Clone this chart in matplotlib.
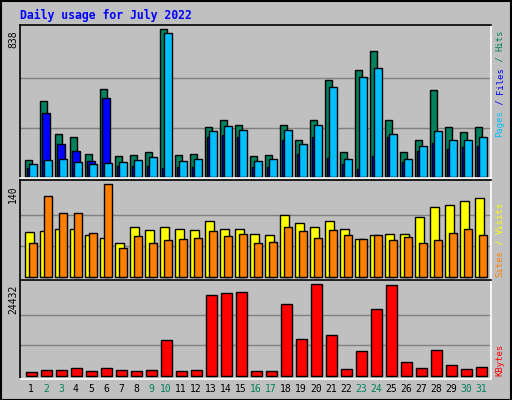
import numpy as np
import matplotlib.pyplot as plt
from matplotlib.patches import Rectangle

days = list(range(1, 32))
hits = [99, 428, 241, 229, 133, 497, 121, 127, 144, 838, 127, 133, 281, 320, 292, 121,
        127, 292, 207, 320, 548, 144, 605, 713, 320, 144, 207, 491, 281, 252, 281]
files = [53, 360, 184, 150, 93, 446, 64, 64, 64, 53, 59, 59, 224, 235, 229, 59,
         59, 207, 133, 224, 110, 76, 47, 121, 229, 87, 150, 190, 161, 167, 173]
pages = [76, 99, 104, 87, 76, 82, 87, 99, 116, 815, 93, 104, 258, 286, 264, 93,
         104, 264, 184, 292, 508, 104, 565, 616, 241, 104, 178, 258, 212, 212, 224]
visits = [67, 69, 73, 73, 63, 58, 51, 76, 70, 76, 72, 70, 84, 72, 73, 64,
          63, 93, 81, 76, 85, 73, 57, 63, 64, 64, 91, 105, 108, 114, 119]
sites = [51, 122, 97, 97, 66, 140, 44, 61, 51, 55, 57, 58, 69, 61, 64, 51,
         52, 75, 69, 58, 70, 63, 57, 63, 55, 60, 51, 55, 66, 72, 63]
kbytes = [892, 1427, 1427, 1962, 1160, 1962, 1427, 1160, 1427, 9455, 1160, 1427, 21497, 22032,
          22300, 1160, 1160, 19089, 9723, 24432, 10793, 1695, 6512, 17751, 24173, 3568, 1962,
          6779, 2765, 1695, 2230]
weekend = [2, 3, 9, 10, 16, 17, 23, 24, 30, 31]

BG = '#C0C0C0'
GREEN = '#00805C'
W, H = 512, 400
mono = 'DejaVu Sans Mono'

fig = plt.figure(figsize=(W / 100, H / 100), dpi=100, facecolor=BG)
fig.patches.append(Rectangle((0.5 / W, 0.5 / H), 1 - 1.5 / W, 1 - 1.5 / H, transform=fig.transFigure,
                             fill=False, ec='black', lw=1.5))

def panel(top, bottom):
    ax = fig.add_axes([20 / W, 1 - bottom / H, 471 / W, (bottom - top) / H])
    ax.set_facecolor(BG)
    ax.set_xlim(0.277, 31.68)
    ax.set_xticks([])
    ax.set_yticks([])
    for s in ax.spines.values():
        s.set_color('black')
        s.set_linewidth(1.2)
    ax.spines['bottom'].set_color('white')
    ax.spines['right'].set_color('white')
    return ax

x = np.array(days)
bk = dict(edgecolor='black', linewidth=1)

# top panel
ax1 = panel(25, 178)
m1 = max(hits)
ax1.set_ylim(-5.7, 860.6)
for g in (m1 / 3, 2 * m1 / 3):
    ax1.axhline(g, color='#808080', lw=1, zorder=0)
ax1.bar(x - 0.147, hits, width=0.487, color=GREEN, **bk)
ax1.bar(x, files, width=0.51, color='#0000FF', **bk)
ax1.bar(x + 0.14, pages, width=0.487, color='#00BFFF', **bk)

# middle panel
ax2 = panel(180, 280)
m2 = max(sites)
ax2.set_ylim(-5, 146.5)
for g in (m2 / 3, 2 * m2 / 3):
    ax2.axhline(g, color='#808080', lw=1, zorder=0)
ax2.bar(x - 0.09, visits, width=0.6, color='#FFFF00', **bk)
ax2.bar(x + 0.143, sites, width=0.49, color='#FF8000', **bk)

# bottom panel
ax3 = panel(280, 379)
m3 = max(kbytes)
ax3.set_ylim(-882, 25581)
for g in (m3 / 3, 2 * m3 / 3):
    ax3.axhline(g, color='#808080', lw=1, zorder=0)
ax3.bar(x + 0.03, kbytes, width=0.7, color='#FF0000', **bk)

# max labels
for val, ypx in ((m1, 30), (m2, 185), (m3, 285)):
    fig.text(8 / W, 1 - ypx / H, str(val), rotation=90, ha='left', va='top',
             family=mono, fontsize=7, color='black')

# day labels
for d in days:
    xp = 25 + 5.85 + (d - 1) * 15
    fig.text(xp / W, 1 - 389 / H, str(d), ha='center', va='center', family=mono, fontsize=7,
             color=GREEN if d in weekend else 'black')

fig.text(20 / W, 1 - 15 / H, 'Daily usage for July 2022', family=mono, fontweight='bold',
         fontsize=8.3, color='#0000FF', va='center', ha='left')

def vlabel(parts, ybottom):
    y = ybottom
    for txt, col in parts:
        fig.text(500 / W, 1 - y / H, txt, rotation=90, ha='center', va='bottom',
                 family=mono, fontsize=6.4, color=col)
        y -= 5.35 * len(txt)

vlabel([('Pages', '#00BFFF'), (' / ', '#0000FF'), ('Files', '#0000FF'), (' / ', GREEN), ('Hits', GREEN)], 137)
vlabel([('Sites', '#FF8000'), (' / ', '#FFFF00'), ('Visits', '#FFFF00')], 277)
vlabel([('KBytes', '#FF0000')], 376)

fig.savefig('out.png', dpi=100, facecolor=BG)
